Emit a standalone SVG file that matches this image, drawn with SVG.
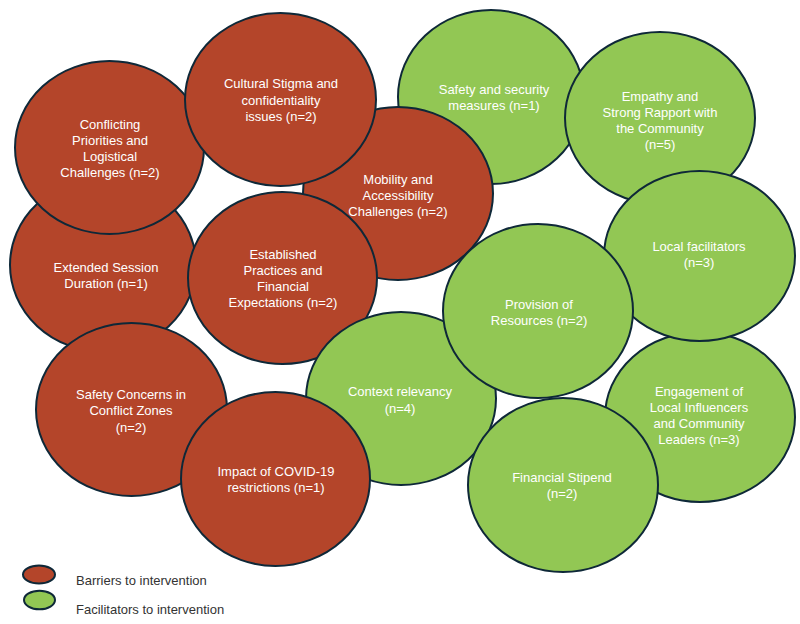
<svg xmlns="http://www.w3.org/2000/svg" width="800" height="624" viewBox="0 0 800 624">
<style>
.b{fill:#B4452A;stroke:#0E2838;stroke-width:2}
.f{fill:#92C754;stroke:#0E2838;stroke-width:2}
.t{font-family:"Liberation Sans",Arial,sans-serif;font-size:13px;fill:#FFFFFF;text-anchor:middle}
.l{font-family:"Liberation Sans",Arial,sans-serif;font-size:13px;fill:#333333}
</style>
<rect width="800" height="624" fill="#FFFFFF"/>
<g id="connectors"></g>
<g id="safety-security"><ellipse class="f" cx="491" cy="97" rx="93" ry="87"/><text class="t" x="494"><tspan x="494" y="94">Safety and security</tspan><tspan x="494" y="110">measures (n=1)</tspan></text></g>
<g id="empathy"><ellipse class="f" cx="660" cy="118" rx="95" ry="86"/><text class="t"><tspan x="660" y="100.5">Empathy and</tspan><tspan x="660" y="116.5">Strong Rapport with</tspan><tspan x="660" y="132.5">the Community</tspan><tspan x="660" y="148.5">(n=5)</tspan></text></g>
<g id="engagement"><ellipse class="f" cx="700" cy="417" rx="95" ry="85"/><text class="t"><tspan x="699" y="395.5">Engagement of</tspan><tspan x="699" y="411.5">Local Influencers</tspan><tspan x="699" y="427.5">and Community</tspan><tspan x="699" y="443.5">Leaders (n=3)</tspan></text></g>
<g id="local-facilitators"><ellipse class="f" cx="699.5" cy="256" rx="95.5" ry="85"/><text class="t"><tspan x="699" y="251">Local facilitators</tspan><tspan x="699" y="267">(n=3)</tspan></text></g>
<g id="extended-session"><ellipse class="b" cx="103" cy="265" rx="93" ry="86.5"/><text class="t"><tspan x="106" y="272">Extended Session</tspan><tspan x="106" y="288">Duration (n=1)</tspan></text></g>
<g id="conflicting-priorities"><ellipse class="b" cx="109.5" cy="147.5" rx="94.5" ry="86.5"/><text class="t"><tspan x="110" y="128.5">Conflicting</tspan><tspan x="110" y="144.5">Priorities and</tspan><tspan x="110" y="160.5">Logistical</tspan><tspan x="110" y="176.5">Challenges (n=2)</tspan></text></g>
<g id="mobility"><ellipse class="b" cx="398" cy="193.5" rx="95" ry="86.5"/><text class="t"><tspan x="398" y="183.5">Mobility and</tspan><tspan x="398" y="199.5">Accessibility</tspan><tspan x="398" y="215.5">Challenges (n=2)</tspan></text></g>
<g id="cultural-stigma"><ellipse class="b" cx="280.5" cy="99.5" rx="95.5" ry="86.5"/><text class="t"><tspan x="281" y="88">Cultural Stigma and</tspan><tspan x="281" y="104.5">confidentiality</tspan><tspan x="281" y="121">issues (n=2)</tspan></text></g>
<g id="established-practices"><ellipse class="b" cx="282.5" cy="278" rx="94.5" ry="86"/><text class="t"><tspan x="283" y="259">Established</tspan><tspan x="283" y="275">Practices and</tspan><tspan x="283" y="291">Financial</tspan><tspan x="283" y="307">Expectations (n=2)</tspan></text></g>
<g id="safety-concerns"><ellipse class="b" cx="131.5" cy="409.5" rx="95.5" ry="86.5"/><text class="t"><tspan x="131" y="399">Safety Concerns in</tspan><tspan x="131" y="415">Conflict Zones</tspan><tspan x="131" y="431.5">(n=2)</tspan></text></g>
<g id="context-relevancy"><ellipse class="f" cx="401" cy="398.5" rx="95" ry="86.5"/><text class="t"><tspan x="400" y="395.5">Context relevancy</tspan><tspan x="400" y="412.5">(n=4)</tspan></text></g>
<g id="covid"><ellipse class="b" cx="275.5" cy="479" rx="94.5" ry="87"/><text class="t"><tspan x="276" y="475.5">Impact of COVID-19</tspan><tspan x="276" y="491.5">restrictions (n=1)</tspan></text></g>
<g id="provision"><ellipse class="f" cx="538" cy="311" rx="95" ry="87"/><text class="t"><tspan x="539" y="308.5">Provision of</tspan><tspan x="539" y="324.5">Resources (n=2)</tspan></text></g>
<g id="financial-stipend"><ellipse class="f" cx="563" cy="485" rx="95" ry="87"/><text class="t"><tspan x="562" y="482">Financial Stipend</tspan><tspan x="562" y="498">(n=2)</tspan></text></g>
<g id="legend">
<ellipse class="b" cx="39" cy="574.5" rx="16" ry="9"/>
<text class="l" x="76" y="584.5">Barriers to intervention</text>
<ellipse class="f" cx="39.5" cy="600" rx="15.5" ry="9.3"/>
<text class="l" x="76" y="614">Facilitators to intervention</text>
</g>
</svg>
